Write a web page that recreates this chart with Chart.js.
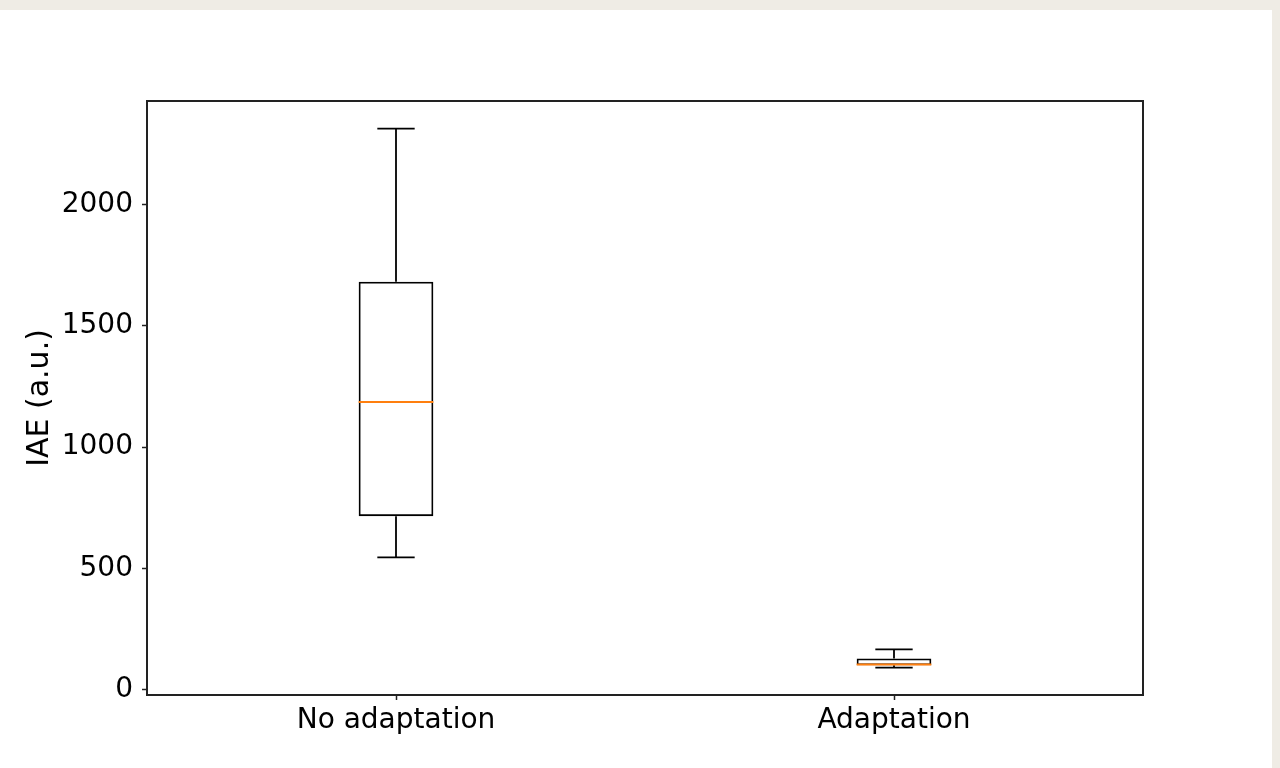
<!DOCTYPE html>
<html>
<head>
<meta charset="utf-8">
<script src="https://cdn.jsdelivr.net/npm/chart.js@4/dist/chart.umd.min.js"></script>
<style>
  html, body { margin: 0; padding: 0; width: 1280px; height: 768px; overflow: hidden; background: #efece5; }
  #card { position: absolute; left: 0; top: 10px; width: 1272px; height: 758px; background: #ffffff; }
  #wrap { position: absolute; left: 0; top: 0; width: 1280px; height: 768px; }
</style>
</head>
<body>
<div id="card"></div>
<div id="wrap"><canvas id="c" width="1280" height="768"></canvas></div>
<script>
const categories = ["No adaptation", "Adaptation"];
const whiskerLow = [545, 90];
const q1 = [715, 100];
const median = [1186, 103];
const q3 = [1682, 128];
const whiskerHigh = [2314, 165];
const yTicks = [0, 500, 1000, 1500, 2000];
const yLabel = "IAE (a.u.)";

const FONT = "'DejaVu Sans', sans-serif";

const boxPlugin = {
  id: 'boxWhiskers',
  afterDatasetsDraw(chart) {
    const ctx = chart.ctx;
    const y = chart.scales.y;
    const meta = chart.getDatasetMeta(0);
    ctx.save();
    ctx.lineCap = 'butt';
    meta.data.forEach((bar, i) => {
      const cx = bar.x;
      const half = bar.width / 2;
      const capHalf = half / 2;
      const yLow = y.getPixelForValue(whiskerLow[i]);
      const yQ1 = y.getPixelForValue(q1[i]);
      const yQ3 = y.getPixelForValue(q3[i]);
      const yHigh = y.getPixelForValue(whiskerHigh[i]);
      const yMed = y.getPixelForValue(median[i]);
      ctx.strokeStyle = '#000';
      ctx.lineWidth = 1.8;
      ctx.beginPath();
      ctx.moveTo(cx, yQ1); ctx.lineTo(cx, yLow);
      ctx.moveTo(cx, yQ3); ctx.lineTo(cx, yHigh);
      ctx.moveTo(cx - capHalf, yLow); ctx.lineTo(cx + capHalf, yLow);
      ctx.moveTo(cx - capHalf, yHigh); ctx.lineTo(cx + capHalf, yHigh);
      ctx.stroke();
      ctx.strokeStyle = '#ff7f0e';
      ctx.lineWidth = 2;
      ctx.beginPath();
      ctx.moveTo(cx - half, yMed); ctx.lineTo(cx + half, yMed);
      ctx.stroke();
    });
    const a = chart.chartArea;
    ctx.strokeStyle = '#222';
    ctx.lineWidth = 2;
    ctx.strokeRect(a.left, a.top, a.right - a.left, a.bottom - a.top);
    ctx.restore();
  }
};

new Chart(document.getElementById('c'), {
  type: 'bar',
  data: {
    labels: categories,
    datasets: [{
      data: q1.map((v, i) => [v, q3[i]]),
      backgroundColor: 'rgba(0,0,0,0)',
      borderColor: '#000',
      borderWidth: 1.8,
      borderSkipped: false,
      barPercentage: 0.15,
      categoryPercentage: 1.0
    }]
  },
  options: {
    responsive: false,
    animation: false,
    events: [],
    layout: { padding: { top: 101, right: 137, left: 0, bottom: 0 } },
    plugins: { legend: { display: false }, tooltip: { enabled: false } },
    scales: {
      x: {
        offset: true,
        grid: { display: true, offset: false, drawOnChartArea: false, drawTicks: true, tickLength: 5, tickColor: '#222', tickWidth: 1.5 },
        border: { display: true, color: '#222', width: 2 },
        ticks: { color: '#000', font: { family: FONT, size: 28 }, padding: 4, maxRotation: 0 },
        afterFit(s) { s.height = 73; }
      },
      y: {
        min: -23,
        max: 2428,
        afterBuildTicks(s) { s.ticks = yTicks.map(v => ({ value: v })); },
        grid: { display: true, drawOnChartArea: false, drawTicks: true, tickLength: 5, tickColor: '#222', tickWidth: 1.5 },
        border: { display: true, color: '#222', width: 2 },
        ticks: { color: '#000', font: { family: FONT, size: 28 }, padding: 9, callback: v => String(v) },
        title: { display: true, text: yLabel, color: '#000', font: { family: FONT, size: 30 }, padding: { top: 22, bottom: 0 } },
        afterFit(s) { s.width = 147; }
      }
    }
  },
  plugins: [boxPlugin]
});
</script>
</body>
</html>
